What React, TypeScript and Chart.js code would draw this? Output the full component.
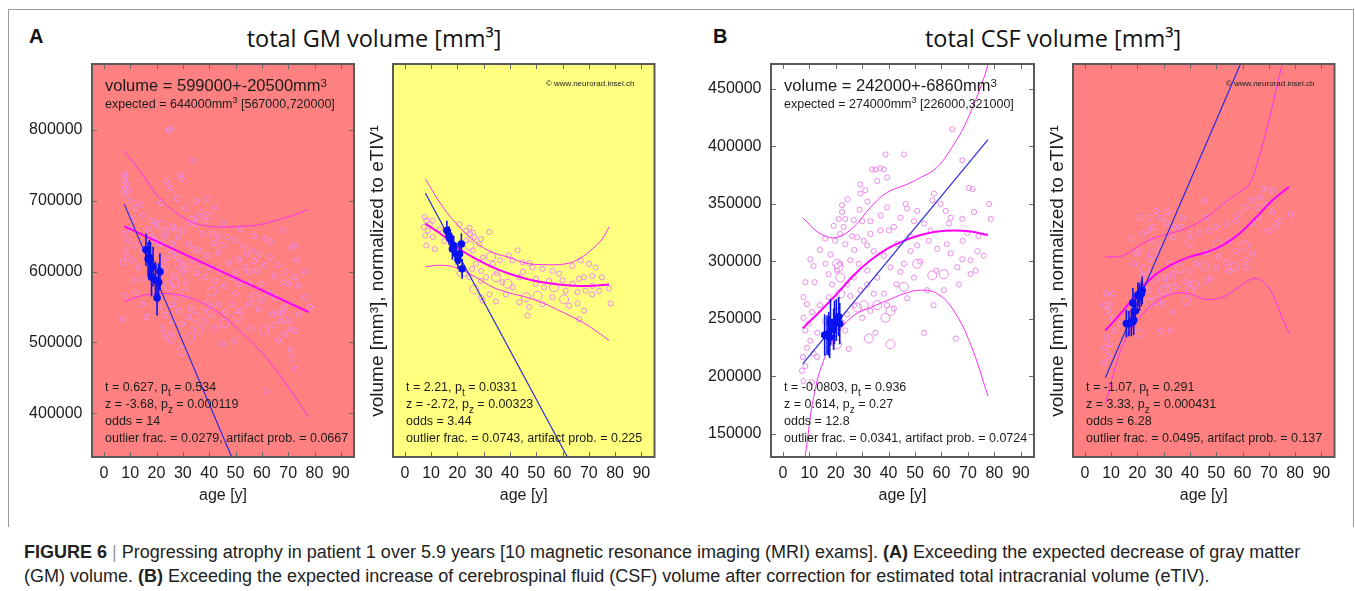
import React, { useEffect, useRef } from "react";
import { Chart, registerables } from "chart.js";
Chart.register(...registerables);

type P = [number, number];

// ---------- tick values ----------
const xTickValues = [0, 10, 20, 30, 40, 50, 60, 70, 80, 90];
const gmTickValues = [400000, 500000, 600000, 700000, 800000];
const csfTickValues = [150000, 200000, 250000, 300000, 350000, 400000, 450000];

// ---------- A: total GM volume (absolute) ----------
const gmSmall: P[] = [
  [24.6, 800000], [25.2, 801000], [33.5, 757000], [29, 736000], [29.6, 731000], [23.6, 727000], [25.5, 718000],
  [7.9, 738000], [8.2, 734000], [7.6, 729000], [8.6, 723000], [7.9, 717000], [9.2, 715000], [7.6, 709000],
  [21.7, 697000], [27.8, 703000], [39.3, 703000], [37.2, 684000], [36, 677000], [40, 679000], [38.5, 672000],
  [34.7, 667000], [33.5, 674000], [32, 668000], [18.3, 672000], [20.2, 667000], [25.9, 664000], [24, 656000],
  [29.9, 658000], [28.4, 649000], [37.2, 653000], [41, 654000], [47, 649000], [49.9, 644000], [61.2, 646000],
  [67.6, 659000], [63, 642000], [72.3, 637000], [7.6, 653000], [9.5, 644000], [8.2, 630000], [8.8, 620000], [7.3, 613000],
  [12, 637000], [14.5, 630000], [24.9, 631000], [25.9, 625000], [24, 619000], [31.8, 604000], [27.1, 594000], [29.7, 599000], [33.5, 616000],
  [36, 630000], [39.1, 623000], [43.6, 627000], [47.3, 613000], [51.1, 618000], [54.3, 625000], [53.7, 606000], [58, 601000], [61.2, 609000],
  [64.8, 594000], [68.2, 585000], [70, 583000], [72.6, 592000], [46, 580000], [49.9, 569000],
  [27.8, 564000], [25.9, 554000], [45.1, 498000], [49.9, 503000], [64.4, 524000], [67.9, 541000], [71, 519000], [72.6, 517000],
  [66.3, 503000], [68.8, 512000], [71, 490000], [72.6, 463000], [61.5, 432000], [7.2, 533000], [11.4, 588000], [8.2, 566000],
  [14.5, 554000], [16.4, 536000], [20.8, 550000], [23.4, 539000], [76.4, 564000], [78.3, 550000], [71.3, 634000], [73.2, 616000],
  [56.2, 630000], [53, 637000], [43.6, 649000], [45.5, 637000], [32.2, 639000], [34.1, 632000], [18.3, 649000], [20.8, 639000],
  [22.7, 611000], [22.7, 601000], [38.5, 592000], [40.4, 606000], [42.3, 587000], [48.6, 592000], [51.1, 583000], [54.9, 583000],
  [60, 583000], [62.5, 569000], [65, 564000], [66.3, 543000], [68.8, 550000], [73.9, 540000], [54.9, 554000], [58.7, 547000],
  [71.3, 478000], [70, 531000], [28.4, 545000], [29.7, 526000], [32.2, 536000], [43.6, 554000], [46.1, 543000], [48.6, 554000],
  [10.7, 616000], [13.3, 606000],
  [10, 700000], [12, 690000], [15, 680000], [17, 660000], [19, 645000], [22, 640000], [26, 640000], [28, 620000],
  [30, 610000], [31, 585000], [35, 598000], [37, 610000], [42, 640000], [44, 600000], [50, 600000], [55, 600000],
  [57, 615000], [59, 625000], [63, 620000], [66, 610000], [69, 600000], [74, 580000], [76, 600000], [12, 570000],
  [15, 590000], [19, 625000], [23, 650000], [27, 660000], [31, 690000], [35, 700000], [42, 690000], [45, 668000],
  [52, 660000], [57, 650000], [60, 560000], [64, 540000], [67, 530000], [56, 520000], [52, 545000], [42, 520000],
  [38, 530000], [33, 548000], [26, 530000], [22, 520000], [10, 660000], [11, 675000], [14, 695000],
];
const gmLarge: P[] = [
  [21.7, 666000], [28.7, 610000], [41, 572000], [57.4, 564000], [26.9, 584000], [24.6, 580000], [30.9, 569000],
  [38.8, 552000], [40.7, 543000], [34.7, 536000], [36, 518000], [45.8, 527000], [50.8, 536000], [60.9, 517000],
  [29.7, 488000], [24.6, 510000], [25.6, 506000], [32.8, 507000],
];
const gmUpper: P[] = [
  [7.8, 770000], [14.5, 738000], [20.8, 705000], [27.1, 684000], [33.5, 670000], [39.8, 664000], [46.1, 663000],
  [52.4, 664000], [58.7, 666000], [65, 672000], [71.3, 679000], [77.7, 688000],
];
const gmMean: P[] = [[7.8, 664000], [77.7, 543000]];
const gmLower: P[] = [
  [7.8, 558000], [14.5, 566000], [20.8, 569000], [27.1, 568000], [33.5, 562000], [39.8, 551000], [46.1, 535000],
  [52.4, 514000], [58.7, 491000], [65, 463000], [71.3, 430000], [77.7, 395000],
];
const gmTrend: P[] = [[7.8, 695000], [48.6, 338000]];
const gmPatient: P[] = [
  [16, 631000], [16.8, 618000], [17.3, 620000], [17.7, 616000], [18.1, 592000], [18.7, 607000], [19.6, 588000],
  [20.2, 563000], [20.8, 585000], [21.3, 600000],
];
const gmPatientErr = [23000, 24000, 25000, 26000, 27000, 28000, 26000, 25000, 27000, 26000];

// ---------- A: GM volume normalized to eTIV ----------
const gmnSmall: P[] = [
  [7.6, 677000], [8.2, 672000], [7.2, 663000], [9.5, 667000], [8.8, 658000], [7.8, 651000], [8.2, 637000], [10.7, 649000],
  [11.4, 632000], [10.5, 672000], [13.3, 660000], [15, 643000],
  [20.8, 667000], [24.6, 662000], [24.9, 653000], [23.4, 644000], [26.5, 649000], [28.4, 639000], [32.2, 656000], [29, 646000],
  [25.9, 630000], [29.7, 620000], [27.1, 611000], [25.6, 604000], [29, 601000], [30.9, 592000], [37.2, 585000], [33.5, 611000],
  [36.2, 616000], [39.5, 623000], [42.9, 630000], [41, 616000], [44.8, 613000], [47.3, 612000], [48.6, 606000], [52.4, 604000],
  [56.2, 601000], [63.8, 583000], [66.3, 590000], [68.2, 592000], [71.3, 594000], [72.6, 606000], [70.1, 611000], [66.9, 616000],
  [63.8, 608000], [58.7, 597000], [54.9, 587000], [53, 578000], [49.9, 583000], [43.6, 592000], [41, 578000], [38.5, 568000],
  [34.7, 558000], [32.2, 568000], [29, 587000], [29, 564000], [43.6, 557000], [47.3, 550000], [52.4, 554000], [56.2, 564000],
  [62.5, 552000], [65.7, 555000], [66.3, 533000], [68.2, 545000], [71.3, 568000], [73.9, 573000], [78.3, 555000], [77.7, 576000],
  [71.3, 580000], [68.8, 573000], [65.7, 571000], [61.2, 573000], [46.7, 538000], [29.7, 559000], [24.6, 592000], [22.7, 597000],
  [20.8, 597000], [23.4, 658000], [26, 655000], [35, 598000], [45, 600000], [50, 590000], [60, 588000], [75, 592000],
];
const gmnLarge: P[] = [
  [24.6, 637000], [32.8, 621000], [34.7, 592000], [39.1, 583000], [56.8, 578000], [50.5, 566000], [46.1, 564000],
  [60.6, 561000], [26.5, 575000],
];
const gmnUpper: P[] = [
  [7.8, 731000], [14.5, 691000], [20.8, 663000], [27.1, 641000], [33.5, 627000], [39.8, 620000], [46.1, 612000],
  [52.4, 610000], [61.2, 611000], [66.3, 618000], [71.3, 632000], [75.1, 646000], [77.7, 663000],
];
const gmnMean: P[] = [
  [7.8, 668000], [14.5, 651000], [20.8, 632000], [27.1, 618000], [33.5, 606000], [39.8, 597000], [46.1, 590000],
  [52.4, 585000], [58.7, 582000], [65, 580000], [71.3, 580000], [77.7, 582000],
];
const gmnLower: P[] = [
  [7.8, 607000], [14.5, 609000], [20.8, 604000], [27.1, 592000], [33.5, 578000], [39.8, 570000], [46.1, 564000],
  [52.4, 556000], [58.7, 545000], [63.8, 536000], [68.8, 526000], [73.2, 515000], [77.7, 503000],
];
const gmnTrend: P[] = [[7.8, 711000], [61.9, 338000]];
const gmnPatient: P[] = [
  [16, 658000], [16.8, 651000], [17.3, 646000], [18.1, 632000], [18.6, 637000], [19.6, 625000], [20.2, 617000],
  [20.8, 625000], [21.5, 639000], [21.8, 604000],
];
const gmnPatientErr = [14000, 13000, 14000, 15000, 14000, 15000, 13000, 14000, 15000, 14000];

// ---------- B: total CSF volume (absolute) ----------
const csfSmall: P[] = [
  [64.1, 415000], [38.8, 393000], [45.8, 393000], [33.8, 380000], [35, 380000], [36.9, 381000], [38.2, 380000],
  [35.7, 370000], [39.4, 373000], [31.2, 362000], [29.3, 359000], [24.5, 354000], [22.4, 349000], [29.3, 367000],
  [22.4, 343000], [21.1, 337000], [23.6, 337000], [26.8, 336000], [30, 335000], [33.1, 335000],
  [39.4, 347000], [46.4, 350000], [47, 346000], [50.8, 344000], [56.5, 353000], [59.7, 350000], [61.6, 344000], [63.5, 338000],
  [67.9, 337000], [72.3, 343000], [78, 350000], [78.6, 337000], [67.9, 388000], [70.4, 364000], [71.7, 363000], [57.1, 359000],
  [44.5, 338000], [49.6, 335000], [53.4, 333000], [55.9, 327000], [62.8, 333000], [69.8, 325000], [73.6, 309000], [71, 301000],
  [67.9, 302000], [63.5, 307000], [58.4, 311000], [55.2, 318000], [50.8, 314000], [48.3, 309000], [43.2, 315000], [40.1, 327000],
  [36.9, 327000], [33.1, 324000], [30.6, 318000], [28.1, 321000], [26.2, 322000],
  [23, 330000], [19.2, 331000], [21.7, 324000], [19.8, 318000], [23.6, 315000], [31.9, 314000], [34.4, 309000], [38.2, 305000],
  [45.8, 298000], [66, 295000], [71, 289000], [72.9, 292000], [66.6, 280000], [60.9, 275000], [54.6, 275000], [49.6, 286000],
  [44.5, 291000], [40.7, 295000], [35.7, 286000], [31.9, 292000], [28.7, 298000], [25.5, 301000], [21.7, 298000], [20.5, 292000],
  [10.4, 302000], [11.6, 296000], [8.5, 282000], [7.8, 269000], [9.1, 263000], [11, 256000], [7.8, 251000], [9.7, 246000],
  [8.5, 240000], [10.4, 231000], [9.1, 225000], [7.6, 217000], [8.5, 209000], [7.2, 205000], [11.6, 220000], [12.9, 217000],
  [7.8, 196000], [11, 195000],
  [16.1, 298000], [17.3, 289000], [18.6, 280000], [17.3, 269000], [20.5, 269000], [20.5, 257000], [24.3, 254000], [22.4, 247000],
  [23.6, 240000], [24.9, 224000], [30, 251000], [33.1, 257000], [39.4, 262000], [42, 259000], [35, 238000], [53.4, 238000],
  [65.4, 233000], [34.4, 272000], [38.2, 272000], [29.3, 275000], [25.5, 270000], [24.3, 280000], [26.8, 286000], [31.9, 280000],
  [14, 310000], [16, 320000], [18, 306000], [27, 310000], [29, 345000], [32, 352000], [37, 340000], [42, 330000],
  [48, 322000], [52, 300000], [58, 292000], [62, 315000], [68, 318000], [74, 322000], [76, 305000], [12, 282000],
  [14, 262000], [16, 248000], [13, 238000], [27, 262000], [43, 280000], [47, 268000], [57, 262000],
];
const csfLarge: P[] = [
  [50.8, 298000], [56.5, 288000], [60.9, 289000], [21.7, 286000], [20.5, 228000], [28.1, 260000], [30.6, 262000],
  [35.7, 262000], [40.7, 257000], [45.8, 278000], [38.8, 251000], [32.5, 233000], [40.7, 228000], [20.5, 298000],
  [21.1, 295000], [21.7, 272000],
];
const csfUpper: P[] = [
  [7.5, 338000], [14.2, 324000], [20.5, 321000], [26.8, 330000], [33.1, 347000], [39.4, 360000], [45.8, 366000],
  [52.1, 373000], [58.4, 382000], [64.7, 402000], [68.5, 417000], [72.3, 437000], [76.1, 460000], [78, 475000],
];
const csfMean: P[] = [
  [7.5, 242000], [14.2, 257000], [20.5, 272000], [26.8, 288000], [33.1, 301000], [39.4, 311000], [45.8, 318000],
  [52.1, 323000], [58.4, 326000], [64.7, 327000], [71, 326000], [77.6, 323000],
];
const csfLower: P[] = [
  [7.5, 115000], [9, 140000], [11.6, 182000], [15.4, 214000], [20.5, 237000], [26.8, 253000], [33.1, 260000],
  [39.4, 266000], [45.8, 272000], [52.1, 275000], [58.4, 272000], [64.7, 257000], [71, 228000], [77.6, 183000],
];
const csfTrend: P[] = [[7.5, 211000], [77.6, 406000]];
const csfPatient: P[] = [
  [15.8, 236000], [16.7, 236000], [17.3, 237000], [17.7, 234000], [18, 247000], [19.2, 241000], [19.5, 247000],
  [20.2, 249000], [21.1, 252000], [21.5, 246000],
];
const csfPatientErr = [18000, 17000, 19000, 18000, 20000, 18000, 19000, 18000, 17000, 18000];

// ---------- B: CSF volume normalized to eTIV ----------
const csfnSmall: P[] = [
  [68.2, 363000], [71.3, 362000], [66.9, 356000], [63.8, 353000], [65.7, 347000], [68.8, 349000], [71.3, 343000],
  [61.2, 347000], [58.7, 341000], [66.3, 338000], [73.9, 335000], [78.3, 341000], [72.6, 330000], [70.1, 327000],
  [63.8, 333000], [57.4, 335000], [53.7, 333000], [49.9, 330000], [45.5, 353000], [47.3, 327000], [43.6, 325000],
  [39.8, 324000], [36.6, 330000], [34.1, 330000], [30.9, 333000], [29, 338000], [24.6, 338000], [25.9, 330000],
  [22.1, 324000], [25.3, 318000], [28.4, 315000], [33.5, 321000], [54.9, 318000], [57.4, 309000], [63.8, 307000],
  [61.2, 301000], [53.7, 299000], [51.1, 304000], [46.1, 308000], [42.3, 298000], [39.8, 291000], [33.5, 289000],
  [32.2, 298000], [24.6, 302000], [22.1, 288000], [30.3, 286000], [34.7, 278000], [38.5, 282000], [46.1, 283000],
  [48, 286000], [49.9, 295000], [54.9, 292000], [61.2, 295000], [20.8, 280000], [24, 275000], [29.7, 263000],
  [33.5, 256000], [29, 240000], [32.8, 240000], [18.3, 246000], [13.3, 246000], [10.7, 251000], [9.5, 263000],
  [7.6, 262000], [8.2, 272000], [8.8, 257000], [11.4, 240000], [8.2, 234000], [9.5, 228000], [7.6, 225000],
  [8.8, 218000], [7.6, 212000], [10.7, 272000], [20.8, 338000], [17.7, 320000], [19.6, 307000], [18.9, 298000],
  [20.8, 309000], [24, 327000], [27.1, 344000], [31.6, 343000], [37.2, 338000], [46.1, 338000],
];
const csfnLarge: P[] = [
  [39.8, 317000], [50.5, 315000], [60.6, 314000], [56.8, 295000], [45.5, 296000], [36, 294000], [25.9, 307000],
  [22.7, 293000], [26.5, 285000], [32.8, 283000], [41.7, 280000], [40.4, 275000], [29.7, 275000], [30.9, 275000],
  [27.1, 266000], [24.6, 264000], [38.5, 266000], [20.8, 237000],
];
const csfnUpper: P[] = [
  [7.8, 304000], [14.5, 305000], [20.8, 314000], [27.1, 321000], [33.5, 325000], [39.8, 330000], [46.1, 338000],
  [52.4, 350000], [58.7, 360000], [62.5, 367000], [66.3, 391000], [70.1, 423000], [73.2, 454000], [75.1, 472000], [76.4, 489000],
];
const csfnMean: P[] = [
  [7.8, 240000], [14.5, 257000], [20.8, 275000], [27.1, 289000], [33.5, 298000], [39.8, 304000], [46.1, 308000],
  [52.4, 314000], [58.7, 324000], [65, 338000], [71.3, 353000], [77.7, 365000],
];
const csfnLower: P[] = [
  [7.8, 176000], [12, 211000], [15.8, 234000], [20.8, 251000], [27.1, 265000], [33.5, 272000], [39.8, 272000],
  [46.1, 267000], [52.4, 269000], [58.7, 278000], [63.8, 285000], [67.6, 283000], [71.3, 272000], [75.1, 251000], [77.7, 238000],
];
const csfnTrend: P[] = [[7.8, 199000], [59.3, 472000]];
const csfnPatient: P[] = [
  [15.8, 246000], [16.8, 246000], [17.7, 247000], [18.6, 249000], [19.2, 257000], [18.3, 264000], [20.2, 271000],
  [20.8, 269000], [21.5, 272000], [21.8, 275000],
];
const csfnPatientErr = [12000, 11000, 12000, 13000, 12000, 13000, 11000, 12000, 11000, 12000];

// ---------- text ----------
interface Stats { t: string; pt: string; z: string; pz: string; odds: string; outlier: string; artifact: string; }
const gmStats: Stats = { t: "0.627", pt: "0.534", z: "-3.68", pz: "0.000119", odds: "14", outlier: "0.0279", artifact: "0.0667" };
const gmnStats: Stats = { t: "2.21", pt: "0.0331", z: "-2.72", pz: "0.00323", odds: "3.44", outlier: "0.0743", artifact: "0.225" };
const csfStats: Stats = { t: "-0.0803", pt: "0.936", z: "0.614", pz: "0.27", odds: "12.8", outlier: "0.0341", artifact: "0.0724" };
const csfnStats: Stats = { t: "-1.07", pt: "0.291", z: "3.33", pz: "0.000431", odds: "6.28", outlier: "0.0495", artifact: "0.137" };
const gmVolume = "599000+-20500";
const gmExpected: [string, string] = ["644000", "567000,720000"];
const csfVolume = "242000+-6860";
const csfExpected: [string, string] = ["274000", "226000,321000"];
const copyrightText = "\u00a9 www.neurorad.insel.ch";
const xTitle = "age [y]";
const normTitle = "volume [mm\u00b3], normalized to eTIV\u00b9    ";

// ---------- styles ----------
const FONT = '"Liberation Sans", Arial, Helvetica, sans-serif';
const INK = "#1c1c1c";
const VIOLET = "rgb(236,140,236)";
const MAGENTA = "#ff00ff";
const BOUND = "#ff2ef2";
const BLUE = "#0a12f0";
const TREND = "#2a2ae0";

interface PanelSpec {
  left: number; top: number; w: number; h: number;
  yAxisW: number; padRight: number; bg: string;
  yMin: number; yMax: number; yTicks: number[] | null;
  small: P[]; large: P[]; upper: P[]; mean: P[]; lower: P[]; trend: P[];
  patient: P[]; err: number[];
  volume: string | null; expected: [string, string] | null;
  stats: Stats; copyright: boolean;
}

type Seg = { t: string; size: number; dy: number };

function drawSegs(ctx: CanvasRenderingContext2D, x: number, y: number, segs: Seg[]) {
  let cx = x;
  for (const s of segs) {
    ctx.font = `${s.size}px ${FONT}`;
    ctx.fillText(s.t, cx, y + s.dy);
    cx += ctx.measureText(s.t).width;
  }
}

function buildConfig(s: PanelSpec): any {
  const xy = (a: P[]) => a.map(([x, y]) => ({ x, y }));
  const plugin = {
    id: "panelDecor",
    beforeDraw(chart: any) {
      const { ctx, chartArea: a } = chart;
      ctx.save();
      ctx.fillStyle = s.bg;
      ctx.fillRect(a.left, a.top, a.right - a.left, a.bottom - a.top);
      ctx.restore();
    },
    beforeDatasetDraw(chart: any, args: any) {
      if (args.index !== 0) return;
      const { ctx, scales } = chart;
      ctx.save();
      ctx.strokeStyle = BLUE;
      ctx.lineWidth = 1.6;
      s.patient.forEach(([x, y], i) => {
        const px = scales.x.getPixelForValue(x);
        ctx.beginPath();
        ctx.moveTo(px, scales.y.getPixelForValue(y - s.err[i]));
        ctx.lineTo(px, scales.y.getPixelForValue(y + s.err[i]));
        ctx.stroke();
      });
      ctx.restore();
    },
    afterDatasetsDraw(chart: any) {
      const { ctx, chartArea: a, scales } = chart;
      ctx.save();
      ctx.strokeStyle = "#6a6a6a";
      ctx.lineWidth = 1;
      ctx.beginPath();
      for (const v of xTickValues) {
        const px = Math.round(scales.x.getPixelForValue(v)) + 0.5;
        ctx.moveTo(px, a.bottom); ctx.lineTo(px, a.bottom - 5);
        ctx.moveTo(px, a.top); ctx.lineTo(px, a.top + 5);
      }
      if (s.yTicks) {
        for (const v of s.yTicks) {
          const py = Math.round(scales.y.getPixelForValue(v)) + 0.5;
          ctx.moveTo(a.left, py); ctx.lineTo(a.left + 5, py);
          ctx.moveTo(a.right, py); ctx.lineTo(a.right - 5, py);
        }
      }
      ctx.stroke();
      ctx.strokeStyle = "#5a5a5a";
      ctx.lineWidth = 2;
      ctx.strokeRect(a.left, a.top, a.right - a.left, a.bottom - a.top);
      ctx.fillStyle = INK;
      ctx.textBaseline = "alphabetic";
      ctx.textAlign = "left";
      const tx = a.left + 13;
      if (s.volume) {
        drawSegs(ctx, tx, a.top + 27, [
          { t: `volume = ${s.volume}mm`, size: 16.5, dy: 0 },
          { t: "3", size: 11.5, dy: -4 },
        ]);
      }
      if (s.expected) {
        drawSegs(ctx, tx, a.top + 44, [
          { t: `expected = ${s.expected[0]}mm`, size: 12.5, dy: 0 },
          { t: "3", size: 9, dy: -5 },
          { t: ` [${s.expected[1]}]`, size: 12.5, dy: 0 },
        ]);
      }
      const st = s.stats;
      const lines: Seg[][] = [
        [{ t: `t = ${st.t}, p`, size: 12.5, dy: 0 }, { t: "t", size: 10, dy: 5 }, { t: ` = ${st.pt}`, size: 12.5, dy: 0 }],
        [{ t: `z = ${st.z}, p`, size: 12.5, dy: 0 }, { t: "z", size: 10, dy: 5 }, { t: ` = ${st.pz}`, size: 12.5, dy: 0 }],
        [{ t: `odds = ${st.odds}`, size: 12.5, dy: 0 }],
        [{ t: `outlier frac. = ${st.outlier}, artifact prob. = ${st.artifact}`, size: 12.5, dy: 0 }],
      ];
      lines.forEach((l, i) => drawSegs(ctx, tx, a.bottom - 15 - 17 * (3 - i), l));
      if (s.copyright) {
        ctx.font = `8px ${FONT}`;
        ctx.textAlign = "right";
        ctx.fillText(copyrightText, a.right - 20, a.top + 22);
      }
      ctx.restore();
    },
  };

  const pointSet = (data: P[], r: number, order: number) => ({
    data: xy(data), showLine: false, pointRadius: r, pointHoverRadius: r,
    pointBorderColor: VIOLET, borderColor: VIOLET, pointBackgroundColor: "rgba(0,0,0,0)",
    backgroundColor: "rgba(0,0,0,0)", pointBorderWidth: 1, order,
  });
  const curve = (data: P[], color: string, width: number, order: number, tension: number) => ({
    data: xy(data), showLine: true, borderColor: color, borderWidth: width, pointRadius: 0,
    pointHoverRadius: 0, tension, fill: false, order,
  });

  return {
    type: "scatter",
    data: {
      datasets: [
        {
          data: xy(s.patient), showLine: false, pointRadius: 3.8, pointHoverRadius: 3.8,
          pointBackgroundColor: BLUE, pointBorderColor: BLUE, backgroundColor: BLUE, borderColor: BLUE,
          pointBorderWidth: 0, order: 0,
        },
        curve(s.trend, TREND, 1.2, 1, 0),
        curve(s.mean, MAGENTA, 2, 2, 0.4),
        curve(s.upper, BOUND, 1, 2, 0.4),
        curve(s.lower, BOUND, 1, 2, 0.4),
        pointSet(s.large, 4.5, 3),
        pointSet(s.small, 2.6, 3),
      ],
    },
    options: {
      responsive: false,
      animation: false,
      devicePixelRatio: 1,
      events: [],
      layout: { padding: { left: 0, top: 8, right: s.padRight, bottom: 0 } },
      plugins: { legend: { display: false }, tooltip: { enabled: false }, title: { display: false } },
      scales: {
        x: {
          type: "linear", min: -4.5, max: 95,
          grid: { display: false, drawTicks: false, tickLength: 0 },
          border: { display: false },
          afterBuildTicks: (ax: any) => { ax.ticks = xTickValues.map((v) => ({ value: v })); },
          afterFit: (ax: any) => {
            ax.height = s.h - 8 - 393;
            ax.paddingLeft = 0; ax.paddingRight = 0; ax.paddingTop = 0; ax.paddingBottom = 0;
          },
          ticks: {
            color: INK, font: { family: FONT, size: 16 }, padding: 7, maxRotation: 0, minRotation: 0,
            autoSkip: false, callback: (v: any) => String(v),
          },
          title: { display: true, text: xTitle, color: INK, font: { family: FONT, size: 16 }, padding: { top: 0, bottom: 13 } },
        },
        y: {
          type: "linear", min: s.yMin, max: s.yMax,
          grid: { display: false, drawTicks: false, tickLength: 0 },
          border: { display: false },
          afterBuildTicks: (ax: any) => { ax.ticks = (s.yTicks || []).map((v) => ({ value: v })); },
          afterFit: (ax: any) => {
            ax.width = s.yAxisW;
            ax.paddingLeft = 0; ax.paddingRight = 0; ax.paddingTop = 0; ax.paddingBottom = 0;
          },
          ticks: {
            display: !!s.yTicks, color: INK, font: { family: FONT, size: 16 }, padding: 9.5,
            autoSkip: false, callback: (v: any) => String(v),
          },
          title: {
            display: !s.yTicks, text: normTitle, color: INK, font: { family: FONT, size: 19 },
            padding: { top: 4.6, bottom: 0 },
          },
        },
      },
    },
    plugins: [plugin],
  };
}

const panels: PanelSpec[] = [
  {
    left: 16, top: 56, w: 344, h: 462, yAxisW: 76, padRight: 6, bg: "#ff8080",
    yMin: 338300, yMax: 893200, yTicks: gmTickValues,
    small: gmSmall, large: gmLarge, upper: gmUpper, mean: gmMean, lower: gmLower, trend: gmTrend,
    patient: gmPatient, err: gmPatientErr, volume: gmVolume, expected: gmExpected, stats: gmStats, copyright: false,
  },
  {
    left: 362, top: 56, w: 298, h: 462, yAxisW: 31, padRight: 4, bg: "#ffff80",
    yMin: 338300, yMax: 893200, yTicks: null,
    small: gmnSmall, large: gmnLarge, upper: gmnUpper, mean: gmnMean, lower: gmnLower, trend: gmnTrend,
    patient: gmnPatient, err: gmnPatientErr, volume: null, expected: null, stats: gmnStats, copyright: true,
  },
  {
    left: 696, top: 56, w: 344, h: 462, yAxisW: 75, padRight: 6, bg: "#ffffff",
    yMin: 130000, yMax: 471700, yTicks: csfTickValues,
    small: csfSmall, large: csfLarge, upper: csfUpper, mean: csfMean, lower: csfLower, trend: csfTrend,
    patient: csfPatient, err: csfPatientErr, volume: csfVolume, expected: csfExpected, stats: csfStats, copyright: false,
  },
  {
    left: 1042, top: 56, w: 298, h: 462, yAxisW: 31, padRight: 4, bg: "#ff8080",
    yMin: 130000, yMax: 471700, yTicks: null,
    small: csfnSmall, large: csfnLarge, upper: csfnUpper, mean: csfnMean, lower: csfnLower, trend: csfnTrend,
    patient: csfnPatient, err: csfnPatientErr, volume: null, expected: null, stats: csfnStats, copyright: true,
  },
];

function Panel({ spec }: { spec: PanelSpec }) {
  const ref = useRef<HTMLCanvasElement | null>(null);
  useEffect(() => {
    if (!ref.current) return;
    const chart = new Chart(ref.current, buildConfig(spec));
    return () => chart.destroy();
  }, [spec]);
  return (
    <canvas
      ref={ref}
      width={spec.w}
      height={spec.h}
      style={{ position: "absolute", left: spec.left, top: spec.top, width: spec.w, height: spec.h }}
    />
  );
}

export default function App() {
  const titleStyle: React.CSSProperties = {
    position: "absolute", top: 27, width: 400, textAlign: "center", fontFamily: '"Open Sans", "Noto Sans", sans-serif',
    fontSize: 23.5, lineHeight: 1, color: "#111", whiteSpace: "nowrap",
  };
  const letterStyle: React.CSSProperties = {
    position: "absolute", top: 26, fontFamily: FONT, fontWeight: "bold", fontSize: 20, lineHeight: 1, color: "#111",
  };
  return (
    <div style={{ position: "absolute", left: 0, top: 0, width: 1355, height: 591, background: "#fff", overflow: "hidden" }}>
      <div style={{ position: "absolute", left: 8, top: 9, width: 1346, height: 518, borderTop: "1px solid #9a9a9a", borderLeft: "1px solid #9a9a9a", borderRight: "1px solid #9a9a9a", boxSizing: "border-box" }} />
      <div style={{ ...letterStyle, left: 29 }}>A</div>
      <div style={{ ...letterStyle, left: 713 }}>B</div>
      <div style={{ ...titleStyle, left: 374 - 200 }}>total GM volume [mm³]</div>
      <div style={{ ...titleStyle, left: 1053 - 200 }}>total CSF volume [mm³]</div>
      {panels.map((p, i) => <Panel key={i} spec={p} />)}
      <div style={{ position: "absolute", left: 24, top: 540, fontFamily: FONT, fontSize: 18, lineHeight: "24px", color: "#222", whiteSpace: "nowrap" }}>
        <b>FIGURE 6</b> <span style={{ color: "#999" }}>|</span> Progressing atrophy in patient 1 over 5.9 years [10 magnetic resonance imaging (MRI) exams]. <b>(A)</b> Exceeding the expected decrease of gray matter
        <br />
        (GM) volume. <b>(B)</b> Exceeding the expected increase of cerebrospinal fluid (CSF) volume after correction for estimated total intracranial volume (eTIV).
      </div>
    </div>
  );
}
